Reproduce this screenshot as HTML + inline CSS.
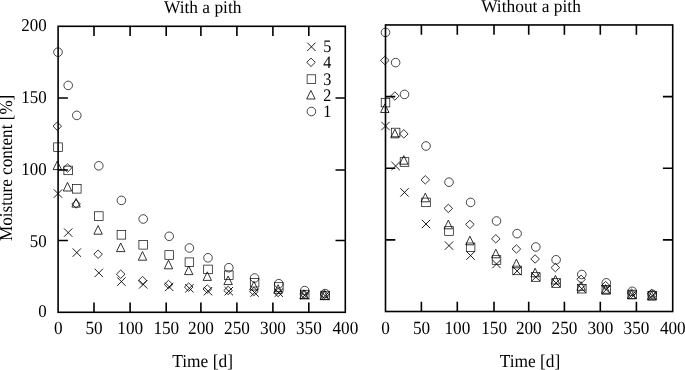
<!DOCTYPE html>
<html><head><meta charset="utf-8"><title>Moisture content</title>
<style>html,body{margin:0;padding:0;background:#fff}svg{display:block;text-rendering:geometricPrecision}</style>
</head><body>
<svg width="685" height="370" viewBox="0 0 685 370">
<rect width="685" height="370" fill="#fff"/>
<g fill="none" stroke="#000" stroke-width="1.6" stroke-linecap="butt">
<rect x="58.1" y="26.3" width="287.2" height="286"/>
<path d="M94 26.3v9.8M94 312.3v-9.8M130.1 26.3v9.8M130.1 312.3v-9.8M166.2 26.3v9.8M166.2 312.3v-9.8M200.9 26.3v9.8M200.9 312.3v-9.8M236.9 26.3v9.8M236.9 312.3v-9.8M272.9 26.3v9.8M272.9 312.3v-9.8M308.8 26.3v9.8M308.8 312.3v-9.8M58.1 240.5h9.8M345.3 240.5h-9.8M58.1 170.05h9.8M345.3 170.05h-9.8M58.1 97.95h9.8M345.3 97.95h-9.8"/>
</g>
<g font-family='"Liberation Serif", serif' font-size="18.2" fill="#000">
<text transform="translate(202.7 13.2) scale(0.977 1)" text-anchor="middle" font-size="17.8">With a pith</text>
<text transform="translate(58.2 334.2) scale(0.925 1)" text-anchor="middle" font-size="18.6">0</text>
<text transform="translate(94.1 334.2) scale(0.925 1)" text-anchor="middle" font-size="18.6">50</text>
<text transform="translate(130.2 334.2) scale(0.925 1)" text-anchor="middle" font-size="18.6">100</text>
<text transform="translate(166.3 334.2) scale(0.925 1)" text-anchor="middle" font-size="18.6">150</text>
<text transform="translate(201 334.2) scale(0.925 1)" text-anchor="middle" font-size="18.6">200</text>
<text transform="translate(237 334.2) scale(0.925 1)" text-anchor="middle" font-size="18.6">250</text>
<text transform="translate(273 334.2) scale(0.925 1)" text-anchor="middle" font-size="18.6">300</text>
<text transform="translate(308.9 334.2) scale(0.925 1)" text-anchor="middle" font-size="18.6">350</text>
<text transform="translate(345.4 334.2) scale(0.925 1)" text-anchor="middle" font-size="18.6">400</text>
<text transform="translate(202.6 366.7) scale(0.955 1)" text-anchor="middle">Time [d]</text>
<text transform="translate(46.7 317.2) scale(0.94 1)" text-anchor="end" font-size="18.0">0</text>
<text transform="translate(46.7 246.8) scale(0.94 1)" text-anchor="end" font-size="18.0">50</text>
<text transform="translate(46.7 175) scale(0.94 1)" text-anchor="end" font-size="18.0">100</text>
<text transform="translate(46.7 103.2) scale(0.94 1)" text-anchor="end" font-size="18.0">150</text>
<text transform="translate(46.7 31) scale(0.94 1)" text-anchor="end" font-size="18.0">200</text>
<text transform="translate(11.6 167.8) rotate(-90) scale(0.94 1)" text-anchor="middle" font-size="18.2">Moisture content [%]</text>
<g font-size="17.6">
<text transform="translate(323.3 52.3) scale(0.92 1)">5</text>
<text transform="translate(323.3 68) scale(0.92 1)">4</text>
<text transform="translate(323.3 85) scale(0.92 1)">3</text>
<text transform="translate(323.3 101) scale(0.92 1)">2</text>
<text transform="translate(323.3 117.2) scale(0.92 1)">1</text>
</g>
</g>
<g fill="none" stroke="#000" stroke-width="0.8">
<circle cx="58" cy="52.2" r="4.3" stroke-width="0.72"/>
<circle cx="68.2" cy="85.4" r="4.3" stroke-width="0.72"/>
<circle cx="76.8" cy="115.4" r="4.3" stroke-width="0.72"/>
<circle cx="98.8" cy="165.8" r="4.3" stroke-width="0.72"/>
<circle cx="121.4" cy="200.4" r="4.3" stroke-width="0.72"/>
<circle cx="143.2" cy="219" r="4.3" stroke-width="0.72"/>
<circle cx="169.2" cy="236.3" r="4.3" stroke-width="0.72"/>
<circle cx="189.4" cy="248" r="4.3" stroke-width="0.72"/>
<circle cx="208" cy="257.8" r="4.3" stroke-width="0.72"/>
<circle cx="228.8" cy="267.7" r="4.3" stroke-width="0.72"/>
<circle cx="254.6" cy="278" r="4.3" stroke-width="0.72"/>
<circle cx="278.8" cy="283.7" r="4.3" stroke-width="0.72"/>
<circle cx="304.7" cy="290.6" r="4.3" stroke-width="0.72"/>
<circle cx="325.1" cy="293.6" r="4.3" stroke-width="0.72"/>
<rect x="53.7" y="142.9" width="8.6" height="8.6" stroke-width="0.68"/>
<rect x="63.9" y="166.1" width="8.6" height="8.6" stroke-width="0.68"/>
<rect x="72.5" y="184.5" width="8.6" height="8.6" stroke-width="0.68"/>
<rect x="94.5" y="211.8" width="8.6" height="8.6" stroke-width="0.68"/>
<rect x="117.1" y="230.5" width="8.6" height="8.6" stroke-width="0.68"/>
<rect x="138.9" y="240.5" width="8.6" height="8.6" stroke-width="0.68"/>
<rect x="164.9" y="250.7" width="8.6" height="8.6" stroke-width="0.68"/>
<rect x="185.1" y="257.9" width="8.6" height="8.6" stroke-width="0.68"/>
<rect x="203.7" y="265.1" width="8.6" height="8.6" stroke-width="0.68"/>
<rect x="224.5" y="270.9" width="8.6" height="8.6" stroke-width="0.68"/>
<rect x="250.3" y="278.4" width="8.6" height="8.6" stroke-width="0.68"/>
<rect x="274.5" y="282.7" width="8.6" height="8.6" stroke-width="0.68"/>
<rect x="300.4" y="290.3" width="8.6" height="8.6" stroke-width="0.68"/>
<rect x="320.8" y="291.2" width="8.6" height="8.6" stroke-width="0.68"/>
<path d="M57.3 161L61.5 169.6H53.1Z"/>
<path d="M67.5 182.4L71.7 191H63.3Z"/>
<path d="M76.1 198.5L80.3 207.1H71.9Z"/>
<path d="M98.1 225.6L102.3 234.2H93.9Z"/>
<path d="M120.7 243L124.9 251.6H116.5Z"/>
<path d="M142.5 251.6L146.7 260.2H138.3Z"/>
<path d="M168.5 260.2L172.7 268.8H164.3Z"/>
<path d="M188.7 266L192.9 274.6H184.5Z"/>
<path d="M207.3 271.8L211.5 280.4H203.1Z"/>
<path d="M228.1 276L232.3 284.6H223.9Z"/>
<path d="M253.9 281.4L258.1 290H249.7Z"/>
<path d="M278.1 284.7L282.3 293.3H273.9Z"/>
<path d="M304 290L308.2 298.6H299.8Z"/>
<path d="M324.4 290.9L328.6 299.5H320.2Z"/>
<path d="M57.3 122L61.6 126.2L57.3 130.4L53 126.2Z"/>
<path d="M67.5 163.8L71.8 168L67.5 172.2L63.2 168Z"/>
<path d="M76.1 199.8L80.4 204L76.1 208.2L71.8 204Z"/>
<path d="M98.1 250L102.4 254.2L98.1 258.4L93.8 254.2Z"/>
<path d="M120.7 270L125 274.2L120.7 278.4L116.4 274.2Z"/>
<path d="M142.5 276.4L146.8 280.6L142.5 284.8L138.2 280.6Z"/>
<path d="M168.5 280.3L172.8 284.5L168.5 288.7L164.2 284.5Z"/>
<path d="M188.7 282.9L193 287.1L188.7 291.3L184.4 287.1Z"/>
<path d="M207.3 284.8L211.6 289L207.3 293.2L203 289Z"/>
<path d="M228.1 286.3L232.4 290.5L228.1 294.7L223.8 290.5Z"/>
<path d="M253.9 287.3L258.2 291.5L253.9 295.7L249.6 291.5Z"/>
<path d="M278.1 288.3L282.4 292.5L278.1 296.7L273.8 292.5Z"/>
<path d="M304 289.8L308.3 294L304 298.2L299.7 294Z"/>
<path d="M324.4 290.3L328.7 294.5L324.4 298.7L320.1 294.5Z"/>
<path d="M53.8 189.4L62.2 197.8M53.8 197.8L62.2 189.4" stroke-width="0.88"/>
<path d="M64 228.4L72.4 236.8M64 236.8L72.4 228.4" stroke-width="0.88"/>
<path d="M72.6 248.4L81 256.8M72.6 256.8L81 248.4" stroke-width="0.88"/>
<path d="M94.6 268.7L103 277.1M94.6 277.1L103 268.7" stroke-width="0.88"/>
<path d="M117.2 277.4L125.6 285.8M117.2 285.8L125.6 277.4" stroke-width="0.88"/>
<path d="M139 280.2L147.4 288.6M139 288.6L147.4 280.2" stroke-width="0.88"/>
<path d="M165 282.7L173.4 291.1M165 291.1L173.4 282.7" stroke-width="0.88"/>
<path d="M185.2 284.1L193.6 292.5M185.2 292.5L193.6 284.1" stroke-width="0.88"/>
<path d="M203.8 287L212.2 295.4M203.8 295.4L212.2 287" stroke-width="0.88"/>
<path d="M224.6 287L233 295.4M224.6 295.4L233 287" stroke-width="0.88"/>
<path d="M250.4 288.4L258.8 296.8M250.4 296.8L258.8 288.4" stroke-width="0.88"/>
<path d="M274.6 288.5L283 296.9M274.6 296.9L283 288.5" stroke-width="0.88"/>
<path d="M300.5 291L308.9 299.4M300.5 299.4L308.9 291" stroke-width="0.88"/>
<path d="M320.9 291.5L329.3 299.9M320.9 299.9L329.3 291.5" stroke-width="0.88"/>
<path d="M307.2 42.6L315.6 51M307.2 51L315.6 42.6" stroke-width="0.88"/>
<path d="M311 58.1L315.3 62.3L311 66.5L306.7 62.3Z"/>
<rect x="307.1" y="74.8" width="8.6" height="8.6" stroke-width="0.68"/>
<path d="M310.9 90.4L315.1 99H306.7Z"/>
<circle cx="311.4" cy="111.5" r="4.3" stroke-width="0.72"/>
</g>
<g fill="none" stroke="#000" stroke-width="1.6" stroke-linecap="butt">
<rect x="385.5" y="24.95" width="287.2" height="286.55"/>
<path d="M421.4 24.95v9.8M421.4 311.5v-9.8M457.3 24.95v9.8M457.3 311.5v-9.8M494 24.95v9.8M494 311.5v-9.8M528.7 24.95v9.8M528.7 311.5v-9.8M564.4 24.95v9.8M564.4 311.5v-9.8M600.3 24.95v9.8M600.3 311.5v-9.8M636.4 24.95v9.8M636.4 311.5v-9.8M385.5 239.85h9.8M672.7 239.85h-9.8M385.5 168.2h9.8M672.7 168.2h-9.8M385.5 96.6h9.8M672.7 96.6h-9.8"/>
</g>
<g font-family='"Liberation Serif", serif' font-size="18.2" fill="#000">
<text transform="translate(531 12.2) scale(0.977 1)" text-anchor="middle" font-size="17.8">Without a pith</text>
<text transform="translate(385.6 334.2) scale(0.925 1)" text-anchor="middle" font-size="18.6">0</text>
<text transform="translate(421.5 334.2) scale(0.925 1)" text-anchor="middle" font-size="18.6">50</text>
<text transform="translate(457.4 334.2) scale(0.925 1)" text-anchor="middle" font-size="18.6">100</text>
<text transform="translate(494.1 334.2) scale(0.925 1)" text-anchor="middle" font-size="18.6">150</text>
<text transform="translate(528.8 334.2) scale(0.925 1)" text-anchor="middle" font-size="18.6">200</text>
<text transform="translate(564.5 334.2) scale(0.925 1)" text-anchor="middle" font-size="18.6">250</text>
<text transform="translate(600.4 334.2) scale(0.925 1)" text-anchor="middle" font-size="18.6">300</text>
<text transform="translate(636.5 334.2) scale(0.925 1)" text-anchor="middle" font-size="18.6">350</text>
<text transform="translate(672.8 334.2) scale(0.925 1)" text-anchor="middle" font-size="18.6">400</text>
<text transform="translate(530 366.7) scale(0.955 1)" text-anchor="middle">Time [d]</text>
</g>
<g fill="none" stroke="#000" stroke-width="0.8">
<circle cx="385.5" cy="32.4" r="4.3" stroke-width="0.72"/>
<circle cx="395.6" cy="62.6" r="4.3" stroke-width="0.72"/>
<circle cx="404.5" cy="94.4" r="4.3" stroke-width="0.72"/>
<circle cx="426" cy="146" r="4.3" stroke-width="0.72"/>
<circle cx="449" cy="182.2" r="4.3" stroke-width="0.72"/>
<circle cx="470.6" cy="202.4" r="4.3" stroke-width="0.72"/>
<circle cx="496.5" cy="221" r="4.3" stroke-width="0.72"/>
<circle cx="517.1" cy="233.6" r="4.3" stroke-width="0.72"/>
<circle cx="535.8" cy="247" r="4.3" stroke-width="0.72"/>
<circle cx="556.1" cy="259.8" r="4.3" stroke-width="0.72"/>
<circle cx="581.8" cy="274.5" r="4.3" stroke-width="0.72"/>
<circle cx="606.3" cy="282.8" r="4.3" stroke-width="0.72"/>
<circle cx="632.2" cy="291.3" r="4.3" stroke-width="0.72"/>
<circle cx="652.3" cy="294.2" r="4.3" stroke-width="0.72"/>
<rect x="381.2" y="98.3" width="8.6" height="8.6" stroke-width="0.68"/>
<rect x="391.3" y="128.2" width="8.6" height="8.6" stroke-width="0.68"/>
<rect x="400.2" y="157.7" width="8.6" height="8.6" stroke-width="0.68"/>
<rect x="421.7" y="198.1" width="8.6" height="8.6" stroke-width="0.68"/>
<rect x="444.7" y="226.7" width="8.6" height="8.6" stroke-width="0.68"/>
<rect x="466.3" y="243" width="8.6" height="8.6" stroke-width="0.68"/>
<rect x="492.2" y="255.7" width="8.6" height="8.6" stroke-width="0.68"/>
<rect x="512.8" y="266.1" width="8.6" height="8.6" stroke-width="0.68"/>
<rect x="531.5" y="272.7" width="8.6" height="8.6" stroke-width="0.68"/>
<rect x="551.8" y="278.7" width="8.6" height="8.6" stroke-width="0.68"/>
<rect x="577.5" y="284.4" width="8.6" height="8.6" stroke-width="0.68"/>
<rect x="602" y="285.6" width="8.6" height="8.6" stroke-width="0.68"/>
<rect x="627.9" y="290.2" width="8.6" height="8.6" stroke-width="0.68"/>
<rect x="648" y="291.4" width="8.6" height="8.6" stroke-width="0.68"/>
<path d="M384.8 103.9L389 112.5H380.6Z"/>
<path d="M394.9 129.2L399.1 137.8H390.7Z"/>
<path d="M403.8 155.6L408 164.2H399.6Z"/>
<path d="M425.3 193.2L429.5 201.8H421.1Z"/>
<path d="M448.3 220.2L452.5 228.8H444.1Z"/>
<path d="M469.9 236.2L474.1 244.8H465.7Z"/>
<path d="M495.8 249.2L500 257.8H491.6Z"/>
<path d="M516.4 259.2L520.6 267.8H512.2Z"/>
<path d="M535.1 268.2L539.3 276.8H530.9Z"/>
<path d="M555.4 275.4L559.6 284H551.2Z"/>
<path d="M581.1 281.7L585.3 290.3H576.9Z"/>
<path d="M605.6 284.7L609.8 293.3H601.4Z"/>
<path d="M631.5 290.1L635.7 298.7H627.3Z"/>
<path d="M651.6 291.2L655.8 299.8H647.4Z"/>
<path d="M384.8 56.2L389.1 60.4L384.8 64.6L380.5 60.4Z"/>
<path d="M394.9 91.8L399.2 96L394.9 100.2L390.6 96Z"/>
<path d="M403.8 129.7L408.1 133.9L403.8 138.1L399.5 133.9Z"/>
<path d="M425.3 175.6L429.6 179.8L425.3 184L421 179.8Z"/>
<path d="M448.3 204.2L452.6 208.4L448.3 212.6L444 208.4Z"/>
<path d="M469.9 220.2L474.2 224.4L469.9 228.6L465.6 224.4Z"/>
<path d="M495.8 234.6L500.1 238.8L495.8 243L491.5 238.8Z"/>
<path d="M516.4 244.8L520.7 249L516.4 253.2L512.1 249Z"/>
<path d="M535.1 254.8L539.4 259L535.1 263.2L530.8 259Z"/>
<path d="M555.4 263.4L559.7 267.6L555.4 271.8L551.1 267.6Z"/>
<path d="M581.1 275.1L585.4 279.3L581.1 283.5L576.8 279.3Z"/>
<path d="M605.6 281.4L609.9 285.6L605.6 289.8L601.3 285.6Z"/>
<path d="M631.5 289.1L635.8 293.3L631.5 297.5L627.2 293.3Z"/>
<path d="M651.6 289.4L655.9 293.6L651.6 297.8L647.3 293.6Z"/>
<path d="M381.3 121.8L389.7 130.2M381.3 130.2L389.7 121.8" stroke-width="0.88"/>
<path d="M391.4 161.8L399.8 170.2M391.4 170.2L399.8 161.8" stroke-width="0.88"/>
<path d="M400.3 188.2L408.7 196.6M400.3 196.6L408.7 188.2" stroke-width="0.88"/>
<path d="M421.8 219.8L430.2 228.2M421.8 228.2L430.2 219.8" stroke-width="0.88"/>
<path d="M444.8 241.4L453.2 249.8M444.8 249.8L453.2 241.4" stroke-width="0.88"/>
<path d="M466.4 251.4L474.8 259.8M466.4 259.8L474.8 251.4" stroke-width="0.88"/>
<path d="M492.3 259.8L500.7 268.2M492.3 268.2L500.7 259.8" stroke-width="0.88"/>
<path d="M512.9 266.8L521.3 275.2M512.9 275.2L521.3 266.8" stroke-width="0.88"/>
<path d="M531.6 272.8L540 281.2M531.6 281.2L540 272.8" stroke-width="0.88"/>
<path d="M551.9 278.8L560.3 287.2M551.9 287.2L560.3 278.8" stroke-width="0.88"/>
<path d="M577.6 284.5L586 292.9M577.6 292.9L586 284.5" stroke-width="0.88"/>
<path d="M602.1 285.4L610.5 293.8M602.1 293.8L610.5 285.4" stroke-width="0.88"/>
<path d="M628 290.4L636.4 298.8M628 298.8L636.4 290.4" stroke-width="0.88"/>
<path d="M648.1 291.6L656.5 300M648.1 300L656.5 291.6" stroke-width="0.88"/>
</g>
</svg>
</body></html>
